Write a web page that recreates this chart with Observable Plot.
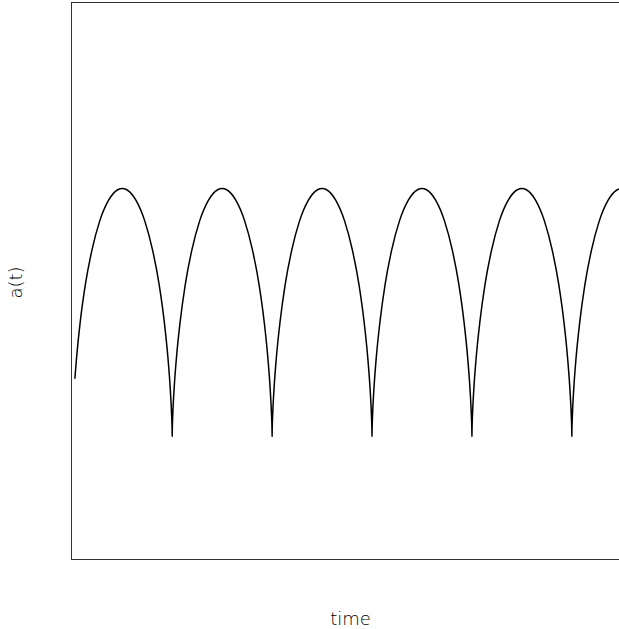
<!DOCTYPE html>
<html>
<head>
<meta charset="utf-8">
<script src="https://cdn.jsdelivr.net/npm/d3@7"></script>
<script src="https://cdn.jsdelivr.net/npm/@observablehq/plot@0.6"></script>
<style>
  html, body { margin: 0; padding: 0; background: #fff; overflow: hidden; }
  #chart svg { display: block; }
</style>
</head>
<body>
<div id="chart"></div>
<script>
// Values: time (cycles) and scale factor a(t)
const time = [
  0.026, 0.043, 0.080, 0.131, 0.197, 0.274, 0.362, 0.455, 0.500, 0.545, 0.638, 0.726, 0.803, 0.869, 0.920, 0.957, 0.981, 0.994, 0.9993, 1.000,
  1.0007, 1.0056, 1.0186, 1.0427, 1.080, 1.131, 1.197, 1.274, 1.362, 1.455, 1.500, 1.545, 1.638, 1.726, 1.803, 1.869, 1.920, 1.957, 1.981, 1.994, 1.9993, 2.000,
  2.0007, 2.0056, 2.0186, 2.0427, 2.080, 2.131, 2.197, 2.274, 2.362, 2.455, 2.500, 2.545, 2.638, 2.726, 2.803, 2.869, 2.920, 2.957, 2.981, 2.994, 2.9993, 3.000,
  3.0007, 3.0056, 3.0186, 3.0427, 3.080, 3.131, 3.197, 3.274, 3.362, 3.455, 3.500, 3.545, 3.638, 3.726, 3.803, 3.869, 3.920, 3.957, 3.981, 3.994, 3.9993, 4.000,
  4.0007, 4.0056, 4.0186, 4.0427, 4.080, 4.131, 4.197, 4.274, 4.362, 4.455, 4.500, 4.545, 4.638, 4.726, 4.803, 4.869, 4.920, 4.957, 4.981, 4.994, 4.9993, 5.000,
  5.0007, 5.0056, 5.0186, 5.0427, 5.080, 5.131, 5.197, 5.274, 5.362, 5.455, 5.500, 5.545
];
const aValues = [
  1.470, 1.638, 1.929, 2.227, 2.505, 2.737, 2.904, 2.990, 3.000, 2.990, 2.904, 2.737, 2.505, 2.227, 1.929, 1.638, 1.378, 1.175, 1.045, 1.000,
  1.045, 1.175, 1.378, 1.638, 1.929, 2.227, 2.505, 2.737, 2.904, 2.990, 3.000, 2.990, 2.904, 2.737, 2.505, 2.227, 1.929, 1.638, 1.378, 1.175, 1.045, 1.000,
  1.045, 1.175, 1.378, 1.638, 1.929, 2.227, 2.505, 2.737, 2.904, 2.990, 3.000, 2.990, 2.904, 2.737, 2.505, 2.227, 1.929, 1.638, 1.378, 1.175, 1.045, 1.000,
  1.045, 1.175, 1.378, 1.638, 1.929, 2.227, 2.505, 2.737, 2.904, 2.990, 3.000, 2.990, 2.904, 2.737, 2.505, 2.227, 1.929, 1.638, 1.378, 1.175, 1.045, 1.000,
  1.045, 1.175, 1.378, 1.638, 1.929, 2.227, 2.505, 2.737, 2.904, 2.990, 3.000, 2.990, 2.904, 2.737, 2.505, 2.227, 1.929, 1.638, 1.378, 1.175, 1.045, 1.000,
  1.045, 1.175, 1.378, 1.638, 1.929, 2.227, 2.505, 2.737, 2.904, 2.990, 3.000, 2.990
];
const xLabel = "time";
const yLabel = "a(t)";
const xDomain = [-0.008, 5.477];
const yDomain = [0.008, 4.5];

const data = time.map((t, i) => ({t, a: aValues[i]}));

const font = "'DejaVu Sans', 'Liberation Sans', sans-serif";

const chart = Plot.plot({
  width: 619,
  height: 629,
  marginLeft: 71,
  marginRight: 0,
  marginTop: 2,
  marginBottom: 70,
  style: {fontFamily: font, background: "#fff"},
  x: {domain: xDomain, axis: null},
  y: {domain: yDomain, axis: null},
  marks: [
    Plot.line(data, {x: "t", y: "a", curve: "monotone-x", stroke: "#000", strokeWidth: 1.5, clip: true}),
    Plot.ruleX([xDomain[0]], {stroke: "#333", strokeWidth: 1}),
    Plot.ruleY([yDomain[0], yDomain[1]], {stroke: "#333", strokeWidth: 1}),
    Plot.text([xLabel], {frameAnchor: "bottom", textAnchor: "middle", lineAnchor: "middle", dx: 5, dy: 59.5,
      fontSize: 18, fontWeight: 300, fill: "#000", text: d => d}),
    Plot.text([yLabel], {frameAnchor: "left", textAnchor: "middle", lineAnchor: "middle", dx: -55.3, dy: 1.5, rotate: -90,
      fontSize: 18, fontWeight: 300, fill: "#000", text: d => d})
  ]
});
document.getElementById("chart").appendChild(chart);
</script>
</body>
</html>
